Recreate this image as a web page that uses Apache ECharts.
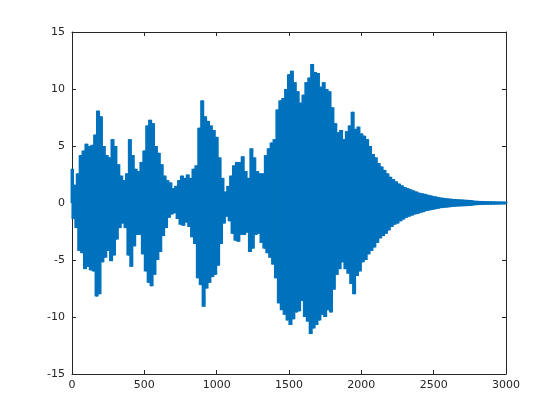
<!DOCTYPE html>
<html lang="en">

<head>
  <meta charset="UTF-8">
  <script type="text/javascript" src="https://cdn.jsdelivr.net/npm/echarts@6/dist/echarts.min.js"></script>
  <title>Document</title>
  <style>
    body {
      margin: 0;
      background-color: #fff;
    }

    #chart {
      width: 560px;
      height: 420px;
    }
  </style>
</head>

<body>
  <div id="chart"></div>
  <script>
    // 波形的上峰值，x = 0, 20, 40 ... 3000
    let peaks = [
      3.0, 1.6, 2.6, 4.2, 4.6, 5.2, 5.0, 5.1, 6.0, 8.1,
      7.6, 5.0, 4.2, 4.0, 5.6, 5.0, 3.4, 2.4, 2.0, 2.6,
      5.6, 4.2, 3.0, 2.8, 3.6, 4.6, 6.8, 7.3, 7.0, 5.0,
      4.4, 3.4, 2.4, 2.0, 1.8, 1.3, 1.5, 2.0, 2.4, 2.2,
      2.5, 2.2, 3.0, 3.3, 6.6, 9.0, 7.6, 7.2, 6.8, 6.4,
      5.8, 4.0, 2.2, 1.0, 1.5, 2.4, 3.3, 3.6, 3.6, 4.1,
      2.8, 2.2, 4.8, 4.0, 2.8, 2.6, 2.6, 4.2, 4.8, 5.3,
      5.6, 8.2, 9.0, 9.2, 10.0, 11.3, 11.6, 10.6, 9.8, 8.8,
      9.5, 10.6, 11.0, 12.2, 11.5, 11.4, 10.2, 10.6, 10.0, 9.8,
      8.4, 7.0, 6.2, 6.4, 5.6, 6.3, 6.8, 8.0, 6.5, 6.7,
      6.1, 5.9, 5.6, 5.0, 4.3, 4.0, 3.5, 3.2, 2.9, 2.6,
      2.3, 2.1, 1.9, 1.7, 1.55, 1.4, 1.3, 1.2, 1.1, 1.0,
      0.9, 0.85, 0.8, 0.72, 0.66, 0.6, 0.55, 0.5, 0.46, 0.43,
      0.4, 0.37, 0.35, 0.33, 0.31, 0.3, 0.28, 0.27, 0.26, 0.2,
      0.19, 0.18, 0.17, 0.16, 0.15, 0.15, 0.14, 0.13, 0.13, 0.12,
      0.12
    ];
    // 下谷值，x = 10, 30, 50 ... 2990
    let troughs = [
      -1.4, -2.2, -4.2, -4.4, -5.8, -5.6, -5.9, -6.0, -8.2, -8.0,
      -5.2, -4.8, -4.2, -5.1, -4.6, -3.2, -2.2, -1.8, -2.2, -4.6,
      -5.6, -3.8, -2.8, -2.8, -4.5, -6.0, -7.0, -7.3, -6.3, -5.0,
      -4.3, -2.9, -2.2, -1.3, -1.0, -0.9, -1.4, -1.9, -2.0, -1.7,
      -2.1, -3.0, -3.6, -6.6, -7.2, -9.1, -7.5, -7.0, -6.5, -6.3,
      -5.5, -3.6, -1.8, -1.2, -1.6, -2.7, -3.3, -3.4, -2.8, -2.8,
      -2.6, -4.3, -4.0, -2.8, -2.7, -3.5, -4.0, -4.4, -4.8, -5.4,
      -6.6, -8.8, -9.4, -9.8, -10.3, -10.7, -10.2, -9.6, -9.5, -8.6,
      -10.0, -10.4, -11.5, -11.0, -10.7, -10.3, -9.8, -10.0, -9.4, -9.6,
      -7.6, -6.3, -5.8, -5.2, -5.8, -6.2, -7.1, -8.0, -6.4, -6.0,
      -5.2, -5.0, -4.5, -4.2, -3.9, -3.5, -3.1, -2.9, -2.7, -2.4,
      -2.1, -1.9, -1.8, -1.6, -1.45, -1.3, -1.2, -1.1, -1.0, -0.95,
      -0.85, -0.8, -0.7, -0.65, -0.6, -0.55, -0.5, -0.45, -0.42, -0.4,
      -0.37, -0.34, -0.32, -0.3, -0.29, -0.28, -0.27, -0.26, -0.22, -0.19,
      -0.18, -0.17, -0.16, -0.15, -0.15, -0.14, -0.14, -0.13, -0.12, -0.12
    ];
    let xTicks = [0, 500, 1000, 1500, 2000, 2500, 3000];
    let yTicks = [-15, -10, -5, 0, 5, 10, 15];
    let step = 20; // 峰值间隔

    // 峰谷交替
    let peakData = peaks.map((v, i) => [i * step, v]);
    let troughData = troughs.map((v, i) => [i * step + step / 2, v]);
    let wave = [];
    for (let i = 0; i < peaks.length; i++) {
      wave.push(peakData[i]);
      if (i < troughs.length) wave.push(troughData[i]);
    }

    let blue = '#0072BD';
    let axisColor = '#262626';
    let labelStyle = { color: axisColor, fontSize: 11, fontFamily: 'DejaVu Sans' };
    let gridW = 434;
    let barW = gridW / (xTicks[xTicks.length - 1] - xTicks[0]) * step * 1.4; // 略宽一点，相邻柱子重叠填满

    function xAxisOf(pos, labels) {
      return {
        type: 'value', position: pos,
        min: xTicks[0], max: xTicks[xTicks.length - 1], interval: 500,
        axisLine: { show: true, onZero: false, lineStyle: { color: axisColor, width: 1 } },
        axisTick: { show: true, inside: true, length: 4, lineStyle: { color: axisColor } },
        axisLabel: labels ? Object.assign({ margin: 6, formatter: v => String(v) }, labelStyle) : { show: false },
        splitLine: { show: false }
      };
    }
    function yAxisOf(pos, labels) {
      return {
        type: 'value', position: pos,
        min: yTicks[0], max: yTicks[yTicks.length - 1], interval: 5,
        axisLine: { show: true, onZero: false, lineStyle: { color: axisColor, width: 1 } },
        axisTick: { show: true, inside: true, length: 4, lineStyle: { color: axisColor } },
        axisLabel: labels ? Object.assign({ margin: 7 }, labelStyle) : { show: false },
        splitLine: { show: false }
      };
    }

    let chart = echarts.init(document.getElementById('chart'));
    chart.setOption({
      animation: false,
      grid: { left: 72, top: 32, width: gridW, height: 342 },
      xAxis: [xAxisOf('bottom', true), xAxisOf('top', false)],
      yAxis: [yAxisOf('left', true), yAxisOf('right', false)],
      series: [
        {
          type: 'bar', data: peakData, barWidth: barW, barGap: '-100%',
          itemStyle: { color: blue }, silent: true
        },
        {
          type: 'bar', data: troughData, barWidth: barW, barGap: '-100%',
          itemStyle: { color: blue }, silent: true
        },
        {
          type: 'line', data: wave, showSymbol: false, sampling: null,
          lineStyle: { color: blue, width: 1 }, silent: true
        }
      ]
    });
  </script>
</body>

</html>
